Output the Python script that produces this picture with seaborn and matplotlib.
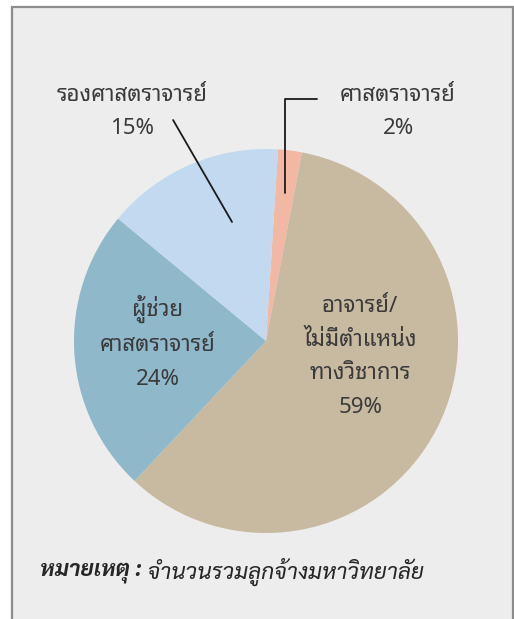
import matplotlib
matplotlib.use('Agg')
import matplotlib.pyplot as plt
from matplotlib.patches import Rectangle
import numpy as np
import seaborn as sns

sns.set_theme(style='white')
plt.rcParams['font.family'] = ['Noto Sans Thai Looped', 'Noto Sans', 'DejaVu Sans']

# data, clockwise from the top
labels = ['ศาสตราจารย์', 'อาจารย์/\nไม่มีตำแหน่ง\nทางวิชาการ', 'ผู้ช่วย\nศาสตราจารย์', 'รองศาสตราจารย์']
shares = [2, 59, 24, 15]
colors = ['#F2B8A3', '#C8B9A1', '#8FB8CA', '#C3D9EF']
note_bold = 'หมายเหตุ :'
note_text = ' จำนวนรวมลูกจ้างมหาวิทยาลัย'

W, H = 514, 619
cx, cy, r = 266, 341, 192   # pie centre / radius in pixels
text_c = '#3a3a3a'

fig = plt.figure(figsize=(W / 100, H / 100), dpi=100, facecolor='white')
fig.patches.append(Rectangle((11.5 / W, -0.02), 501 / W, 1.02 - 6.5 / H,
                             transform=fig.transFigure, facecolor='#EDEDED',
                             edgecolor='#8C8C8C', lw=1.6, zorder=-1))

ax = fig.add_axes([0, 0, 1, 1])
ax.patch.set_alpha(0)
wedges, _ = ax.pie(shares, colors=colors, startangle=86.4, counterclock=False,
                   wedgeprops={'lw': 0, 'antialiased': True})
ax.set_aspect('auto')
ax.set_xlim(-cx / r, (W - cx) / r)
ax.set_ylim((cy - H) / r, cy / r)
ax.axis('off')

fs = 16
lab = dict(ha='center', va='center', fontsize=fs, color=text_c, linespacing=1.78)
# inside labels
ax.text(-0.5625, -0.005, f'{labels[2]}\n{shares[2]}%', **lab)
ax.text(0.49, -0.083, f'{labels[1]}\n{shares[1]}%', **lab)

# outside labels with leader lines
ax.text(-0.698, 1.193, f'{labels[3]}\n{shares[3]}%', **lab)
ax.plot([-0.484, -0.177], [1.151, 0.62], color='#1a1a1a', lw=1.3)

ax.text(0.6875, 1.193, f'{labels[0]}\n{shares[0]}%', **lab)
w0 = wedges[0]
mid = np.deg2rad((w0.theta1 + w0.theta2) / 2)
tip = (0.776 * np.cos(mid), 0.776 * np.sin(mid))
ax.plot([0.266, tip[0], tip[0]], [1.26, 1.26, tip[1]], color='#1a1a1a', lw=1.3)

# footnote
t1 = fig.text(40 / W, 1 - 572 / H, note_bold, ha='left', va='center', fontsize=16.3,
              color='#262626', family=['Sarabun', 'DejaVu Sans'], style='italic', weight='bold')
ax.annotate(note_text, xy=(1, 0.5), xycoords=t1, ha='left', va='center', fontsize=16.3,
            color='#262626', family=['Sarabun', 'DejaVu Sans'], style='italic')

fig.savefig('out.png', dpi=100, facecolor=fig.get_facecolor())
